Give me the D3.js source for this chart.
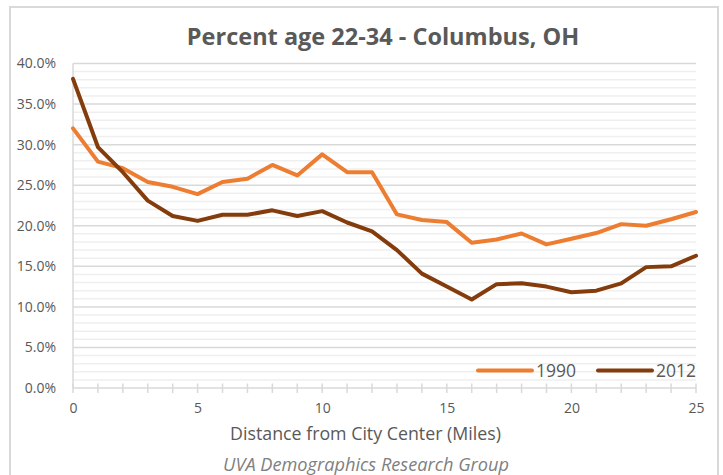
<!DOCTYPE html>
<html>
<head>
<meta charset="utf-8">
<script src="https://cdn.jsdelivr.net/npm/d3@7/dist/d3.min.js"></script>
<style>
  html, body { margin: 0; padding: 0; background: #fff; }
  svg { display: block; font-family: "Open Sans", "Noto Sans", sans-serif; }
</style>
</head>
<body>
<svg id="chart" width="723" height="475"></svg>
<script>
// Distance from city center, in miles
const miles = d3.range(0, 26);
// Share of population aged 22-34 (percent)
const pct1990 = [32.0, 27.9, 27.1, 25.4, 24.8, 23.9, 25.4, 25.8, 27.5, 26.2, 28.8, 26.6, 26.6,
                 21.4, 20.7, 20.45, 17.9, 18.3, 19.05, 17.7, 18.4, 19.1, 20.2, 20.0, 20.8, 21.7];
const pct2012 = [38.1, 29.7, 26.6, 23.1, 21.2, 20.6, 21.35, 21.35, 21.9, 21.2, 21.8, 20.4, 19.3,
                 17.0, 14.1, 12.5, 10.9, 12.8, 12.9, 12.5, 11.8, 12.0, 12.9, 14.9, 15.0, 16.3];
const seriesNames = ["1990", "2012"];
const seriesColors = ["#ED7D31", "#843C0C"];
const yTicks = [0, 5, 10, 15, 20, 25, 30, 35, 40];
const xTicks = [0, 5, 10, 15, 20, 25];

const svg = d3.select("#chart");
const textColor = "#595959";

// outer frame (bottom edge runs off the canvas)
svg.append("path")
  .attr("d", "M10,476 L10,7 L718,7 L718,476")
  .attr("fill", "none").attr("stroke", "#d9d9d9").attr("stroke-width", 2);

const x = d3.scaleLinear().domain([0, 25]).range([73, 696]);
const y = d3.scaleLinear().domain([0, 40]).range([388, 63.5]);

// minor gridlines every 1%
svg.append("g").selectAll("line")
  .data(d3.range(1, 40).filter(v => v % 5 !== 0))
  .join("line")
  .attr("x1", x(0)).attr("x2", x(25))
  .attr("y1", d => y(d)).attr("y2", d => y(d))
  .attr("stroke", "#efefef").attr("stroke-width", 1.5);

// major gridlines
svg.append("g").selectAll("line")
  .data(yTicks.filter(v => v > 0))
  .join("line")
  .attr("x1", x(0)).attr("x2", x(25))
  .attr("y1", d => y(d)).attr("y2", d => y(d))
  .attr("stroke", "#d9d9d9").attr("stroke-width", 1.5);

// left axis line
svg.append("line")
  .attr("x1", x(0)).attr("x2", x(0))
  .attr("y1", y(40)).attr("y2", y(0))
  .attr("stroke", "#d9d9d9").attr("stroke-width", 1.5);

// y-axis labels
const yAxis = d3.axisLeft(y).tickValues(yTicks)
  .tickFormat(d => d3.format(".1f")(d) + "%").tickSize(0).tickPadding(17);
const gy = svg.append("g").attr("transform", `translate(${x(0)},0)`).call(yAxis);
gy.select(".domain").remove();
gy.selectAll("text").attr("fill", textColor).attr("font-size", 14)
  .attr("font-family", "'Open Sans', 'Noto Sans', sans-serif");

// x axis: crossing tick marks at every mile
svg.append("g").selectAll("line")
  .data(miles)
  .join("line")
  .attr("x1", d => x(d)).attr("x2", d => x(d))
  .attr("y1", y(0) - 4.5).attr("y2", y(0) + 5)
  .attr("stroke", "#d9d9d9").attr("stroke-width", 1.5);
svg.append("line")
  .attr("x1", x(0)).attr("x2", x(25))
  .attr("y1", y(0)).attr("y2", y(0))
  .attr("stroke", "#d9d9d9").attr("stroke-width", 1.5);

const xAxis = d3.axisBottom(x).tickValues(xTicks).tickSize(0).tickPadding(15);
const gx = svg.append("g").attr("transform", `translate(0,${y(0)})`).call(xAxis);
gx.select(".domain").remove();
gx.selectAll("text").attr("fill", textColor).attr("font-size", 14)
  .attr("font-family", "'Open Sans', 'Noto Sans', sans-serif");

// series lines
const line = d3.line().x((d, i) => x(miles[i])).y(d => y(d));
[pct1990, pct2012].forEach((vals, k) => {
  svg.append("path")
    .datum(vals)
    .attr("d", line)
    .attr("fill", "none")
    .attr("stroke", seriesColors[k])
    .attr("stroke-width", 4)
    .attr("stroke-linejoin", "round")
    .attr("stroke-linecap", "round");
});

// legend
const legendX = [478, 598];
seriesNames.forEach((name, k) => {
  const g = svg.append("g").attr("transform", `translate(${legendX[k]},370.5)`);
  g.append("line").attr("x1", 0).attr("x2", 54).attr("y1", 0).attr("y2", 0)
    .attr("stroke", seriesColors[k]).attr("stroke-width", 4).attr("stroke-linecap", "round");
  g.append("text").attr("x", 58).attr("y", 6.5).text(name)
    .attr("fill", textColor).attr("font-size", 17.5);
});

// title
svg.append("text")
  .attr("x", 383).attr("y", 45)
  .attr("text-anchor", "middle")
  .attr("font-size", 23.5).attr("font-weight", "bold")
  .attr("fill", textColor)
  .text("Percent age 22-34 - Columbus, OH");

// x-axis title
svg.append("text")
  .attr("x", 365.5).attr("y", 439.5)
  .attr("text-anchor", "middle")
  .attr("font-size", 17.8)
  .attr("fill", textColor)
  .text("Distance from City Center (Miles)");

// source note
svg.append("text")
  .attr("x", 366).attr("y", 470.5)
  .attr("text-anchor", "middle")
  .attr("font-size", 18.2).attr("font-style", "italic")
  .attr("fill", "#808080")
  .text("UVA Demographics Research Group");
</script>
</body>
</html>
